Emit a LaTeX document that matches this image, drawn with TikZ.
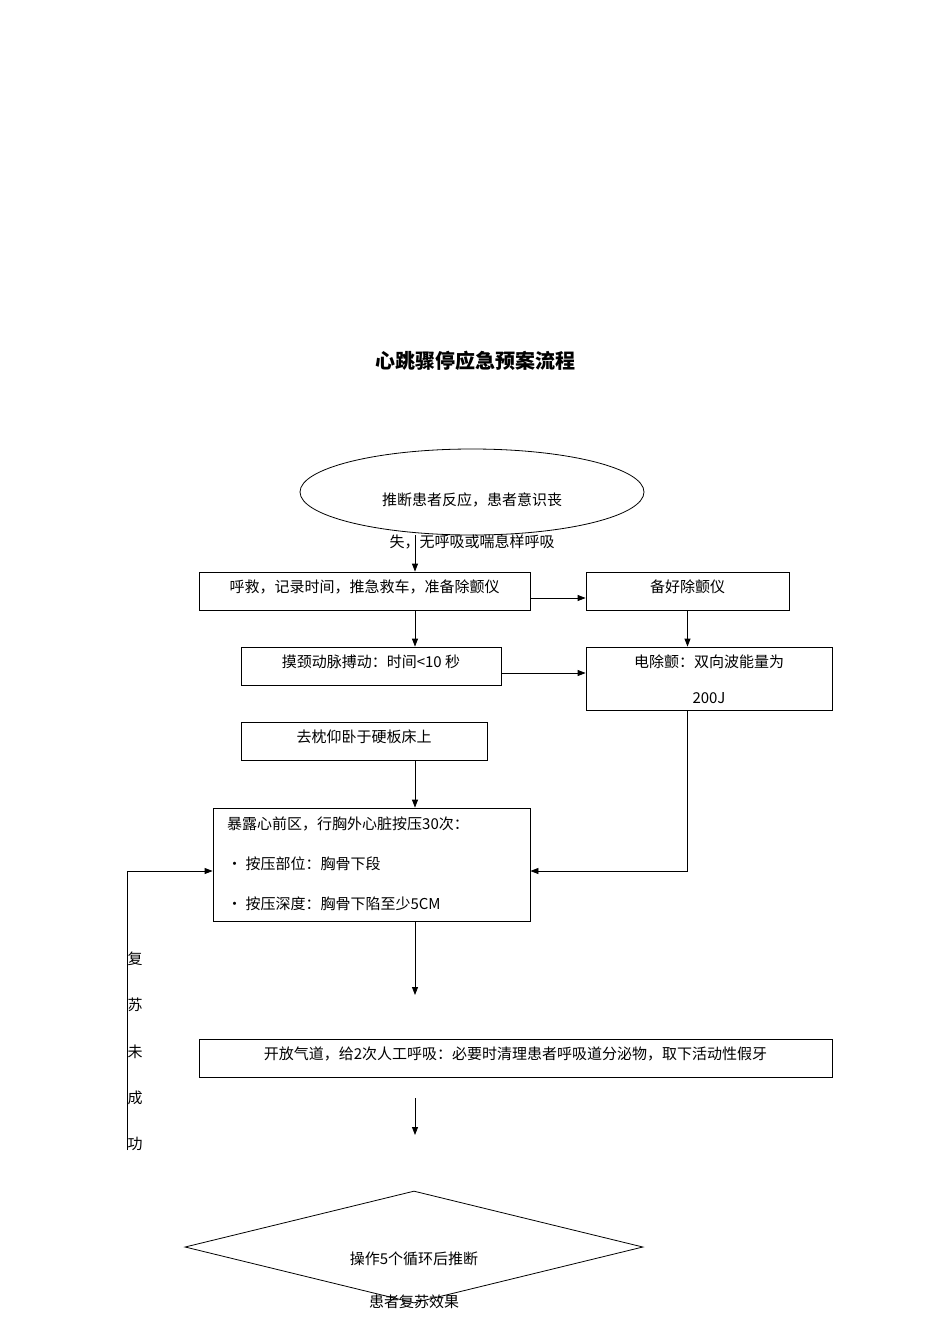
\documentclass[tikz,border=0pt]{standalone}
\usepackage{fontspec}
\setmainfont{Noto Sans CJK SC}
\usetikzlibrary{shapes.geometric,arrows.meta}
\begin{document}
\begin{tikzpicture}[x=1pt,y=-1pt,
  txt/.style={font=\fontsize{15}{18}\selectfont,inner sep=0pt},
  box/.style={draw,line width=0.8pt,rectangle,inner sep=0pt},
  arr/.style={-{Triangle[length=8pt,width=6pt]},line width=0.8pt},
  ln/.style={line width=0.8pt}]
\useasboundingbox[fill=white] (0,0) rectangle (950,1344);
\node[txt,font=\fontsize{20}{24}\selectfont\bfseries] (title) at (475,361) {心跳骤停应急预案流程};
% ellipse
\node[draw,ellipse,line width=0.8pt,minimum width=344pt,minimum height=86pt,inner sep=0pt] (e) at (472,492) {};
\node[txt] (et1) at (472,500) {推断患者反应，患者意识丧};
\node[txt] (et2) at (472,542) {失，无呼吸或喘息样呼吸};
% boxes
\node[box,minimum width=331pt,minimum height=38pt] (b1) at (364.5,591) {};
\node[txt] at (364.5,587) {呼救，记录时间，推急救车，准备除颤仪};
\node[box,minimum width=203pt,minimum height=38pt] (b2) at (687.5,591) {};
\node[txt] at (687.5,587) {备好除颤仪};
\node[box,minimum width=260pt,minimum height=38pt] (b3) at (371,666) {};
\node[txt] at (371,662) {摸颈动脉搏动：时间<10 秒};
\node[box,minimum width=246pt,minimum height=63pt] (b4) at (709,678.5) {};
\node[txt] at (709,662) {电除颤：双向波能量为};
\node[txt] at (709,698) {200J};
\node[box,minimum width=246pt,minimum height=38pt] (b5) at (364,741) {};
\node[txt] at (364,737) {去枕仰卧于硬板床上};
\node[box,minimum width=317pt,minimum height=113pt] (b6) at (371.5,864.5) {};
\node[txt,anchor=west] at (227,824) {暴露心前区，行胸外心脏按压30次：};
\node[txt,anchor=west] at (227,864) {· 按压部位：胸骨下段};
\node[txt,anchor=west] at (227,904) {· 按压深度：胸骨下陷至少5CM};
\node[box,minimum width=633pt,minimum height=38pt] (b7) at (515.5,1058) {};
\node[txt] at (515.5,1054) {开放气道，给2次人工呼吸：必要时清理患者呼吸道分泌物，取下活动性假牙};
\node[draw,diamond,line width=0.8pt,minimum width=458pt,minimum height=112pt,inner sep=0pt] (d) at (414,1247) {};
\node[txt] at (414,1259) {操作5个循环后推断};
\node[txt] at (414,1302) {患者复苏效果};
\foreach \c/\y in {复/959,苏/1005,未/1052,成/1098,功/1144} \node[txt] at (135,\y) {\c};
% coordinates
\coordinate (a1) at (415,1098);
\coordinate (a2) at (415,1135);
\coordinate (c6) at (415,995);
\coordinate (lp1) at (127,1150);
\coordinate (lp2) at (127,871);
\coordinate (k4) at (687,871);
% connectors
\draw[arr] (415,535) -- (b1.north -| 415,0);
\draw[arr] (b1.east |- 0,598) -- (b2.west |- 0,598);
\draw[arr] (b2.south) -- (b4.north -| b2.south);
\draw[arr] (b1.south -| 415,0) -- (b3.north -| 415,0);
\draw[arr] (b3.east |- 0,673) -- (b4.west |- 0,673);
\draw[arr] (b5.south -| 415,0) -- (b6.north -| 415,0);
\draw[arr] (b4.south -| k4) -- (k4) -- (b6.east |- k4);
\draw[arr] (b6.south -| 415,0) -- (c6);
\draw[arr] (a1) -- (a2);
\draw[arr] (lp1) -- (lp2) -- (b6.west |- lp2);
\end{tikzpicture}
\end{document}
